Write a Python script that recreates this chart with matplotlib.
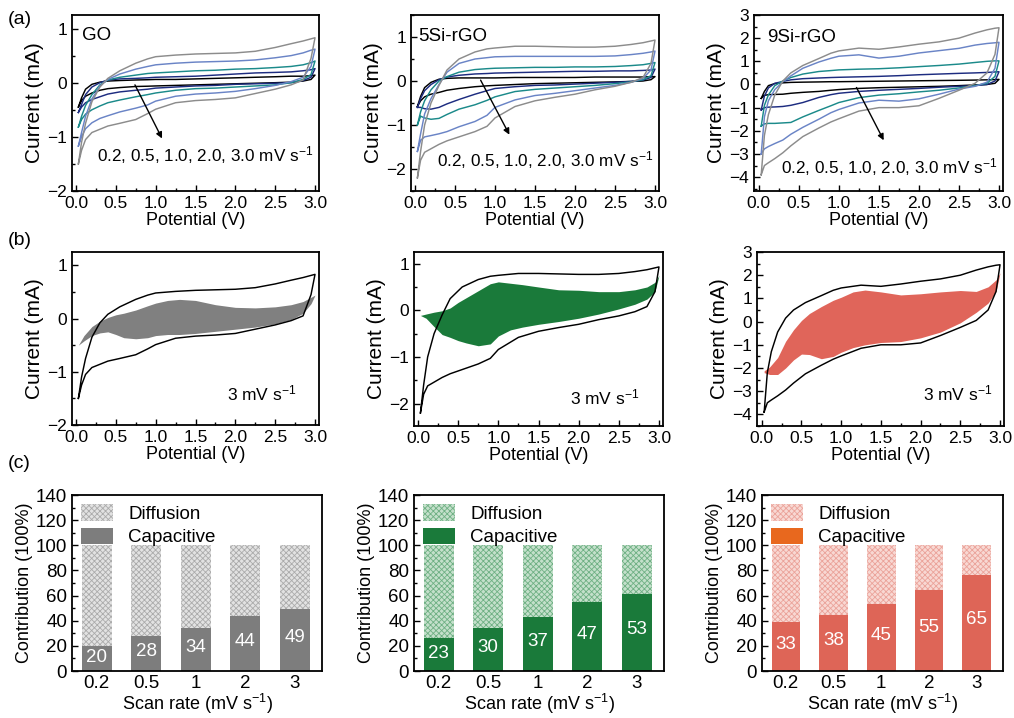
import numpy as np
import matplotlib
matplotlib.use("Agg")
import matplotlib.pyplot as plt
from matplotlib.ticker import MultipleLocator, FormatStrFormatter
from matplotlib.patches import Patch

plt.rcParams['font.family'] = ['Liberation Sans', 'DejaVu Sans']
plt.rcParams['mathtext.fontset'] = 'custom'
plt.rcParams['mathtext.rm'] = 'Liberation Sans'
plt.rcParams['mathtext.it'] = 'Liberation Sans'
plt.rcParams['hatch.linewidth'] = 0.6

# ---------------- data ----------------
scan_rates = ["0.2", "0.5", "1.0", "2.0", "3.0"]
cv_colors = ["#000000", "#1d2c80", "#1b8a8a", "#6a84c6", "#8c8c8c"]

# potential grid (V) shared by all CV branches
V_GRID = [0.03, 0.07, 0.12, 0.2, 0.3, 0.4, 0.55, 0.75, 0.9, 1.0, 1.25, 1.5,
          1.75, 2.0, 2.25, 2.5, 2.7, 2.85, 2.95, 3.0]

# GO : anodic (up) and cathodic (down) currents in mA
GO_up_02 = [-0.45, -0.28, -0.12, -0.03, 0.01, 0.03, 0.04, 0.05, 0.055, 0.06, 0.06, 0.07, 0.08, 0.09, 0.10, 0.11, 0.12, 0.12, 0.13, 0.14]
GO_dn_02 = [-0.45, -0.33, -0.25, -0.19, -0.14, -0.11, -0.09, -0.07, -0.065, -0.06, -0.05, -0.04, -0.03, -0.02, -0.01, 0.0, 0.01, 0.03, 0.06, 0.14]
GO_up_05 = [-0.55, -0.40, -0.22, -0.08, 0.0, 0.05, 0.07, 0.08, 0.09, 0.10, 0.11, 0.12, 0.14, 0.16, 0.18, 0.19, 0.20, 0.22, 0.24, 0.26]
GO_dn_05 = [-0.55, -0.45, -0.37, -0.31, -0.26, -0.21, -0.17, -0.14, -0.12, -0.10, -0.08, -0.06, -0.05, -0.03, -0.02, -0.01, 0.0, 0.04, 0.10, 0.26]
GO_up_10 = [-0.82, -0.62, -0.42, -0.22, -0.04, 0.05, 0.10, 0.14, 0.17, 0.18, 0.20, 0.22, 0.23, 0.25, 0.26, 0.28, 0.30, 0.33, 0.37, 0.40]
GO_dn_10 = [-0.82, -0.68, -0.58, -0.50, -0.43, -0.37, -0.32, -0.26, -0.22, -0.19, -0.14, -0.11, -0.10, -0.08, -0.06, -0.04, 0.0, 0.06, 0.15, 0.40]
GO_up_20 = [-1.17, -0.92, -0.62, -0.30, -0.06, 0.06, 0.16, 0.25, 0.30, 0.33, 0.36, 0.38, 0.39, 0.40, 0.42, 0.46, 0.50, 0.55, 0.60, 0.62]
GO_dn_20 = [-1.17, -1.00, -0.85, -0.74, -0.66, -0.61, -0.54, -0.47, -0.41, -0.34, -0.25, -0.21, -0.19, -0.16, -0.11, -0.05, 0.02, 0.10, 0.30, 0.62]
GO_up_30 = [-1.50, -1.10, -0.75, -0.35, -0.08, 0.08, 0.22, 0.36, 0.44, 0.48, 0.51, 0.53, 0.54, 0.55, 0.58, 0.65, 0.72, 0.77, 0.81, 0.83]
GO_dn_30 = [-1.50, -1.25, -1.05, -0.92, -0.86, -0.80, -0.75, -0.68, -0.57, -0.49, -0.37, -0.33, -0.31, -0.28, -0.20, -0.12, -0.04, 0.05, 0.45, 0.83]

# 5Si-rGO
S5_up_02 = [-0.58, -0.35, -0.15, -0.03, 0.04, 0.06, 0.07, 0.07, 0.07, 0.07, 0.08, 0.08, 0.08, 0.08, 0.09, 0.09, 0.09, 0.09, 0.10, 0.10]
S5_dn_02 = [-0.58, -0.45, -0.36, -0.30, -0.26, -0.21, -0.17, -0.13, -0.11, -0.10, -0.08, -0.06, -0.05, -0.04, -0.03, -0.02, -0.01, 0.0, 0.03, 0.10]
S5_up_05 = [-0.60, -0.40, -0.22, -0.08, 0.03, 0.09, 0.13, 0.16, 0.17, 0.18, 0.19, 0.20, 0.21, 0.22, 0.22, 0.23, 0.23, 0.24, 0.25, 0.27]
S5_dn_05 = [-0.60, -0.60, -0.63, -0.64, -0.60, -0.52, -0.42, -0.30, -0.22, -0.17, -0.13, -0.10, -0.09, -0.07, -0.05, -0.03, -0.01, 0.02, 0.08, 0.27]
S5_up_10 = [-1.00, -0.70, -0.45, -0.20, 0.0, 0.10, 0.20, 0.26, 0.28, 0.29, 0.30, 0.31, 0.31, 0.32, 0.32, 0.33, 0.35, 0.37, 0.40, 0.42]
S5_dn_10 = [-1.00, -0.80, -0.84, -0.87, -0.85, -0.76, -0.64, -0.54, -0.44, -0.36, -0.24, -0.19, -0.16, -0.13, -0.10, -0.06, -0.02, 0.03, 0.12, 0.42]
S5_up_20 = [-1.60, -1.20, -0.75, -0.40, -0.08, 0.20, 0.40, 0.50, 0.53, 0.55, 0.56, 0.56, 0.56, 0.56, 0.56, 0.57, 0.60, 0.63, 0.66, 0.68]
S5_dn_20 = [-1.60, -1.35, -1.27, -1.24, -1.20, -1.15, -1.04, -0.92, -0.78, -0.60, -0.43, -0.33, -0.28, -0.22, -0.16, -0.10, -0.03, 0.06, 0.25, 0.68]
S5_up_30 = [-2.20, -1.60, -1.00, -0.50, -0.10, 0.25, 0.50, 0.66, 0.73, 0.75, 0.79, 0.79, 0.78, 0.77, 0.77, 0.79, 0.83, 0.87, 0.91, 0.93]
S5_dn_30 = [-2.20, -1.80, -1.62, -1.54, -1.44, -1.36, -1.27, -1.15, -1.03, -0.84, -0.58, -0.45, -0.37, -0.30, -0.20, -0.12, -0.03, 0.08, 0.40, 0.93]

# 9Si-rGO
S9_up_02 = [-0.60, -0.30, -0.05, 0.04, 0.07, 0.09, 0.10, 0.11, 0.12, 0.12, 0.13, 0.14, 0.15, 0.16, 0.17, 0.18, 0.19, 0.20, 0.21, 0.22]
S9_dn_02 = [-0.60, -0.47, -0.44, -0.43, -0.42, -0.38, -0.34, -0.30, -0.25, -0.22, -0.17, -0.14, -0.12, -0.10, -0.08, -0.05, -0.02, 0.0, 0.05, 0.22]
S9_up_05 = [-1.10, -0.50, -0.15, 0.05, 0.13, 0.20, 0.25, 0.28, 0.30, 0.31, 0.33, 0.35, 0.38, 0.42, 0.45, 0.48, 0.50, 0.52, 0.54, 0.55]
S9_dn_05 = [-1.10, -1.00, -0.98, -0.97, -0.95, -0.90, -0.78, -0.56, -0.44, -0.38, -0.30, -0.25, -0.21, -0.17, -0.12, -0.08, -0.05, 0.0, 0.15, 0.55]
S9_up_10 = [-1.80, -0.90, -0.45, -0.05, 0.15, 0.30, 0.45, 0.56, 0.60, 0.63, 0.66, 0.68, 0.72, 0.77, 0.82, 0.88, 0.95, 1.00, 1.02, 1.02]
S9_dn_10 = [-1.80, -1.70, -1.68, -1.68, -1.66, -1.64, -1.40, -1.12, -0.92, -0.78, -0.57, -0.46, -0.40, -0.32, -0.25, -0.15, -0.05, 0.05, 0.35, 1.02]
S9_up_20 = [-3.00, -1.40, -0.70, -0.22, 0.12, 0.37, 0.70, 0.97, 1.13, 1.22, 1.28, 1.14, 1.22, 1.36, 1.46, 1.56, 1.70, 1.77, 1.80, 1.82]
S9_dn_20 = [-3.00, -2.78, -2.68, -2.55, -2.40, -2.15, -1.85, -1.50, -1.22, -1.08, -0.80, -0.68, -0.72, -0.62, -0.42, -0.20, -0.08, 0.10, 0.70, 1.82]
S9_up_30 = [-3.90, -2.20, -1.30, -0.45, 0.15, 0.50, 0.82, 1.12, 1.35, 1.45, 1.57, 1.52, 1.62, 1.74, 1.84, 2.00, 2.22, 2.36, 2.43, 2.45]
S9_dn_30 = [-3.90, -3.50, -3.38, -3.20, -2.95, -2.65, -2.25, -1.88, -1.62, -1.48, -1.15, -1.00, -1.00, -0.92, -0.60, -0.25, 0.05, 0.50, 1.30, 2.45]

# capacitive contribution at 3 mV/s (upper / lower edges of shaded area)
V_FILL = [0.03, 0.1, 0.2, 0.3, 0.4, 0.5, 0.6, 0.75, 0.9, 1.0, 1.15, 1.3, 1.5,
          1.75, 2.0, 2.25, 2.5, 2.7, 2.85, 2.95, 3.0]
GO_cap_up = [-0.50, -0.32, -0.15, -0.05, 0.02, 0.07, 0.10, 0.16, 0.24, 0.29, 0.34, 0.36, 0.34, 0.26, 0.21, 0.20, 0.22, 0.26, 0.32, 0.40, 0.44]
GO_cap_dn = [-0.50, -0.42, -0.32, -0.27, -0.25, -0.30, -0.36, -0.38, -0.36, -0.32, -0.30, -0.30, -0.28, -0.24, -0.20, -0.16, -0.10, -0.02, 0.10, 0.28, 0.44]
S5_cap_up = [-0.11, -0.08, -0.04, -0.01, 0.05, 0.17, 0.27, 0.42, 0.57, 0.61, 0.58, 0.55, 0.50, 0.44, 0.43, 0.40, 0.40, 0.44, 0.50, 0.60, 0.75]
S5_cap_dn = [-0.11, -0.17, -0.35, -0.52, -0.58, -0.65, -0.70, -0.76, -0.72, -0.55, -0.42, -0.36, -0.30, -0.24, -0.17, -0.08, 0.03, 0.13, 0.24, 0.40, 0.75]
S9_cap_up = [-2.12, -1.95, -1.55, -0.85, -0.35, 0.05, 0.35, 0.65, 0.92, 1.05, 1.28, 1.36, 1.28, 1.15, 1.20, 1.28, 1.34, 1.30, 1.50, 1.80, 2.10]
S9_cap_dn = [-2.20, -2.28, -2.28, -2.00, -1.65, -1.40, -1.42, -1.60, -1.50, -1.32, -1.12, -1.00, -0.90, -0.86, -0.70, -0.45, -0.05, 0.40, 0.80, 1.30, 2.10]

# contribution bars
bar_rates = ["0.2", "0.5", "1", "2", "3"]
GO_cap_bar = [20, 28, 34, 44, 49]
S5_cap_bar = [26.5, 34.5, 43, 54.5, 61.5]
S9_cap_bar = [39, 44.5, 53, 64.5, 76]
GO_bar_labels = ["20", "28", "34", "44", "49"]
S5_bar_labels = ["23", "30", "37", "47", "53"]
S9_bar_labels = ["33", "38", "45", "55", "65"]
total_bar = [100, 100, 100, 100, 100]

sample_names = ["GO", "5Si-rGO", "9Si-rGO"]

# --------------- figure ---------------
W, H = 1014, 718
fig = plt.figure(figsize=(W / 100, H / 100), dpi=100)


def rect(l, t, r, b):
    return [l / W, 1 - b / H, (r - l) / W, (b - t) / H]


def style_axes(ax, labelsize=12.5):
    for s in ax.spines.values():
        s.set_linewidth(1.3)
    ax.tick_params(which='both', direction='in', top=False, right=False,
                   labelsize=labelsize, width=1.0)
    ax.tick_params(which='major', length=4)
    ax.tick_params(which='minor', length=2.5)


def cv_axes(ax, ylim, ymaj, xlim):
    style_axes(ax, 12.5)
    ax.set_xlim(*xlim)
    ax.set_ylim(*ylim)
    ax.xaxis.set_major_locator(MultipleLocator(0.5))
    ax.xaxis.set_minor_locator(MultipleLocator(0.25))
    ax.xaxis.set_major_formatter(FormatStrFormatter('%.1f'))
    ax.yaxis.set_major_locator(MultipleLocator(ymaj))
    ax.yaxis.set_minor_locator(MultipleLocator(ymaj / 2))
    ax.set_xlabel('Potential (V)', fontsize=13, labelpad=1)
    ax.set_ylabel('Current (mA)', fontsize=15, labelpad=2)


def draw_loop(ax, up, dn, color):
    v = V_GRID + V_GRID[::-1]
    i = up + dn[::-1]
    ax.plot(v, i, color=color, lw=1.05)


cv_sets = [
    [(GO_up_02, GO_dn_02), (GO_up_05, GO_dn_05), (GO_up_10, GO_dn_10), (GO_up_20, GO_dn_20), (GO_up_30, GO_dn_30)],
    [(S5_up_02, S5_dn_02), (S5_up_05, S5_dn_05), (S5_up_10, S5_dn_10), (S5_up_20, S5_dn_20), (S5_up_30, S5_dn_30)],
    [(S9_up_02, S9_dn_02), (S9_up_05, S9_dn_05), (S9_up_10, S9_dn_10), (S9_up_20, S9_dn_20), (S9_up_30, S9_dn_30)],
]
cap_sets = [(GO_cap_up, GO_cap_dn), (S5_cap_up, S5_cap_dn), (S9_cap_up, S9_cap_dn)]
fill_colors = ["#808080", "#1a7a3a", "#e0655a"]

a_rects = [rect(72, 15, 319, 191), rect(411, 15, 659, 191), rect(754, 15, 1003, 191)]
b_rects = [rect(72, 252, 319, 425), rect(414, 252, 663, 426), rect(757, 252, 1004, 426)]
c_rects = [rect(72, 495, 322, 671), rect(414, 495, 664, 671), rect(762, 495, 1003, 671)]

a_ylims = [(-2, 1.25), (-2.5, 1.5), (-4.6, 3.0)]
b_ylims = [(-2, 1.25), (-2.48, 1.25), (-4.5, 3.0)]
ymajs = [1, 1, 1]
xlims = [(-0.05, 3.05), (-0.05, 3.05), (-0.06, 3.05)]

name_pos = [(0.07, 0.88), (0.04, 1.02), (0.1, 2.03)]
arrows = [((0.74, -0.04), (1.08, -1.03)), ((0.82, 0.02), (1.18, -1.22)), ((1.22, -0.13), (1.56, -2.41))]
rate_text_y = [-1.34, -1.79, -3.56]
b_text = [(2.33, -1.41), (2.33, -1.86), (2.47, -3.08)]

rate_str = ", ".join(scan_rates) + r" mV s$^{-1}$"

for k in range(3):
    ax = fig.add_axes(a_rects[k])
    cv_axes(ax, a_ylims[k], ymajs[k], xlims[k])
    for (up, dn), c in zip(cv_sets[k], cv_colors):
        draw_loop(ax, up, dn, c)
    ax.text(*name_pos[k], sample_names[k], fontsize=13.5, ha='left', va='center')
    (x0, y0), (x1, y1) = arrows[k]
    ax.annotate('', xy=(x1, y1), xytext=(x0, y0),
                arrowprops=dict(arrowstyle='-|>', color='k', lw=1.0,
                                mutation_scale=9, shrinkA=0, shrinkB=0))
    ax.text(2.98, rate_text_y[k], rate_str, fontsize=12.3, ha='right', va='center')

    bx = fig.add_axes(b_rects[k])
    cv_axes(bx, b_ylims[k], ymajs[k], xlims[k])
    cu, cd = cap_sets[k]
    bx.fill_between(V_FILL, cd, cu, color=fill_colors[k], lw=0)
    up30, dn30 = cv_sets[k][4]
    draw_loop(bx, up30, dn30, 'black')
    bx.text(*b_text[k], r"3 mV s$^{-1}$", fontsize=12.5, ha='center', va='center')

# bar panels
cap_bars = [GO_cap_bar, S5_cap_bar, S9_cap_bar]
bar_labels = [GO_bar_labels, S5_bar_labels, S9_bar_labels]
cap_colors = ["#7d7d7d", "#1a7a3a", "#de6557"]
legend_cap_colors = ["#7d7d7d", "#1a7a3a", "#e8681e"]
dif_face = ["#e2e2e2", "#c4e0cb", "#f8d8d3"]
dif_hatch = ["#ababab", "#6fb084", "#eba39a"]

for k in range(3):
    ax = fig.add_axes(c_rects[k])
    style_axes(ax, 13.5)
    x = np.arange(len(bar_rates))
    ax.bar(x, total_bar, width=0.6, color=dif_face[k], edgecolor=dif_hatch[k],
           hatch='xxxxxx', linewidth=0)
    ax.bar(x, cap_bars[k], width=0.6, color=cap_colors[k], linewidth=0)
    for xi, h, lab in zip(x, cap_bars[k], bar_labels[k]):
        ax.text(xi, h * 0.54, lab, color='white', fontsize=13.5, ha='center', va='center')
    ax.set_xlim(-0.5, 4.55)
    ax.set_ylim(0, 140)
    ax.set_xticks(x)
    ax.set_xticklabels(bar_rates)
    ax.tick_params(axis='x', which='both', length=0, pad=3)
    ax.yaxis.set_major_locator(MultipleLocator(20))
    ax.yaxis.set_minor_locator(MultipleLocator(10))
    ax.set_xlabel(r"Scan rate (mV s$^{-1}$)", fontsize=13, labelpad=0)
    ax.set_ylabel("Contribution (100%)", fontsize=13, labelpad=2)
    handles = [Patch(facecolor=dif_face[k], edgecolor=dif_hatch[k], hatch='xxxxxx', linewidth=0),
               Patch(facecolor=legend_cap_colors[k], linewidth=0)]
    ax.legend(handles, ["Diffusion", "Capacitive"], loc='upper left', frameon=False,
              fontsize=13.5, handlelength=1.7, handleheight=0.95, handletextpad=0.8,
              labelspacing=0.25, borderaxespad=0.3, borderpad=0.2)

fig.text(8 / W, 1 - 20 / H, "(a)", fontsize=14, ha='left', va='center')
fig.text(8 / W, 1 - 240 / H, "(b)", fontsize=14, ha='left', va='center')
fig.text(8 / W, 1 - 463 / H, "(c)", fontsize=14, ha='left', va='center')

fig.savefig("out.png", dpi=100)
